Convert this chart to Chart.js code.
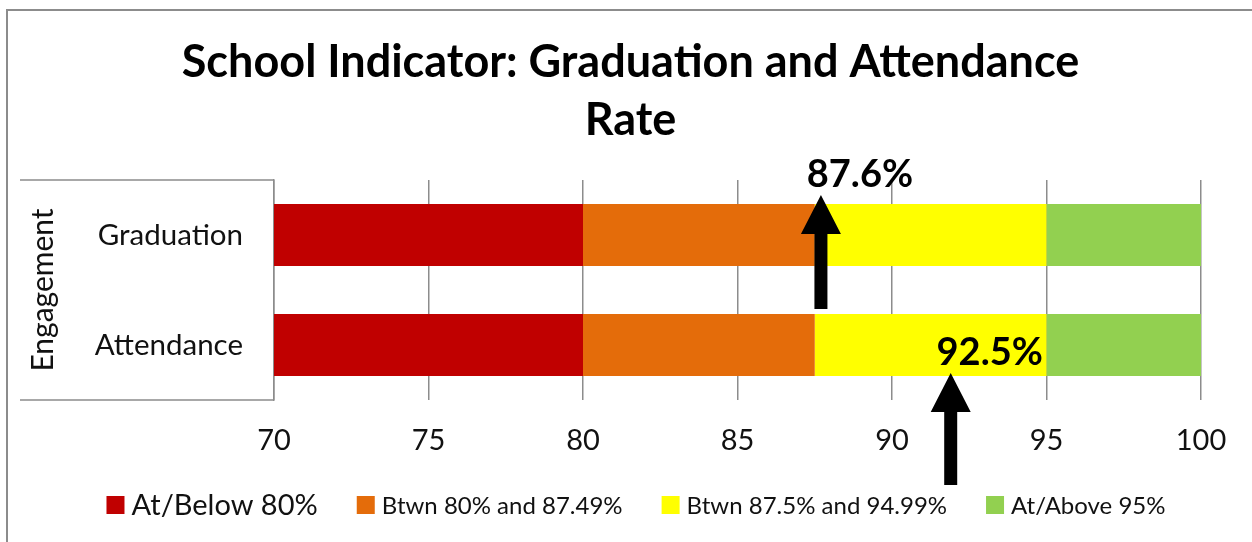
<!DOCTYPE html>
<html>
<head>
<meta charset="utf-8">
<script src="https://cdn.jsdelivr.net/npm/chart.js@4.4.1/dist/chart.umd.min.js"></script>
<style>
  html, body { margin: 0; padding: 0; background: #fff; }
  #wrap { position: relative; width: 1252px; height: 542px; }
  #frame { position: absolute; left: 6px; top: 9px; width: 1300px; height: 600px; border-top: 2px solid #8c8c8c; border-left: 2px solid #8c8c8c; }
  canvas { position: absolute; left: 0; top: 0; }
</style>
</head>
<body>
<div id="wrap">
  <div id="frame"></div>
  <canvas id="chart" width="1252" height="542"></canvas>
</div>
<script>
const categories = ["Graduation", "Attendance"];
const bandLabels = ["At/Below 80%", "Btwn 80% and 87.49%", "Btwn 87.5% and 94.99%", "At/Above 95%"];
const bandColors = ["#C00000", "#E46C0A", "#FFFF00", "#92D050"];
// stacked widths of each band (first one starts at 0, axis is cut at 70)
const atBelow80 = [80, 80];
const btwn80and875 = [7.5, 7.5];
const btwn875and95 = [7.5, 7.5];
const atAbove95 = [5, 5];
const actualRates = [87.6, 92.5];
// where the arrows were placed on the axis
const arrowAt = [87.7, 91.9];
const xTicks = [70, 75, 80, 85, 90, 95, 100];

const FONT = "Lato, 'Open Sans', sans-serif";

// title sits a bit right of centre in the original
const titleShift = {
  id: "titleShift",
  afterLayout(chart) {
    if (chart.titleBlock) {
      chart.titleBlock.left += 20;
      chart.titleBlock.right += 20;
    }
  }
};

// arrows + value labels, y-axis box and the legend
const annotate = {
  id: "annotate",
  afterDraw(chart) {
    const ctx = chart.ctx;
    const area = chart.chartArea;
    const xs = chart.scales.x;
    const ys = chart.scales.y;

    // box round the category labels
    ctx.save();
    ctx.strokeStyle = "#8c8c8c";
    ctx.lineWidth = 1.5;
    ctx.beginPath();
    ctx.moveTo(ys.left, area.top); ctx.lineTo(area.left, area.top);
    ctx.moveTo(ys.left, area.bottom); ctx.lineTo(area.left, area.bottom);
    ctx.stroke();
    ctx.restore();

    // arrows
    const bars = chart.getDatasetMeta(0).data;
    ctx.save();
    ctx.fillStyle = "#000";
    arrowAt.forEach((v, i) => {
      const x = xs.getPixelForValue(v);
      const yc = bars[i].y;
      let tip, base;
      if (i === 0) { tip = yc - 40; base = yc + 74; }
      else { tip = yc + 28; base = yc + 140; }
      const headH = 39, headW = 40, shaftW = 13;
      ctx.beginPath();
      ctx.moveTo(x, tip);
      ctx.lineTo(x + headW / 2, tip + headH);
      ctx.lineTo(x + shaftW / 2, tip + headH);
      ctx.lineTo(x + shaftW / 2, base);
      ctx.lineTo(x - shaftW / 2, base);
      ctx.lineTo(x - shaftW / 2, tip + headH);
      ctx.lineTo(x - headW / 2, tip + headH);
      ctx.closePath();
      ctx.fill();

      ctx.font = "bold 38px " + FONT;
      ctx.textAlign = "center";
      ctx.textBaseline = "middle";
      ctx.fillText(actualRates[i].toFixed(1) + "%", x + 39, tip - 20);
    });
    ctx.restore();

    // legend, first entry is bigger like in the original
    const sizes = [29, 24, 24, 24];
    const box = 18, gap = 7, between = 39;
    ctx.save();
    ctx.textBaseline = "middle";
    ctx.textAlign = "left";
    let total = 0;
    const widths = chart.data.datasets.map((ds, i) => {
      ctx.font = sizes[i] + "px " + FONT;
      const w = ctx.measureText(ds.label).width;
      total += box + gap + w;
      return w;
    });
    total += between * (widths.length - 1);
    let x = 636 - total / 2;
    const y = 505;
    chart.data.datasets.forEach((ds, i) => {
      ctx.fillStyle = ds.backgroundColor;
      ctx.fillRect(x, y - box / 2, box, box);
      x += box + gap;
      ctx.fillStyle = "#111";
      ctx.font = sizes[i] + "px " + FONT;
      ctx.fillText(ds.label, x, y + 1);
      x += widths[i] + between;
    });
    ctx.restore();
  }
};

const bandData = [atBelow80, btwn80and875, btwn875and95, atAbove95];

new Chart(document.getElementById("chart"), {
  type: "bar",
  data: {
    labels: categories,
    datasets: bandLabels.map((label, i) => ({
      label: label,
      data: bandData[i],
      backgroundColor: bandColors[i],
      borderWidth: 0,
      barPercentage: 0.565,
      categoryPercentage: 1.0
    }))
  },
  options: {
    indexAxis: "y",
    responsive: false,
    animation: false,
    layout: { padding: { left: 20, right: 51, top: 0, bottom: 72 } },
    plugins: {
      legend: { display: false },
      tooltip: { enabled: false },
      title: {
        display: true,
        text: ["School Indicator: Graduation and Attendance", "Rate"],
        color: "#000",
        font: { family: FONT, size: 45, weight: "bold", lineHeight: 1.3 },
        padding: { top: 33, bottom: 30 }
      }
    },
    scales: {
      x: {
        stacked: true,
        min: 70,
        max: 100,
        afterBuildTicks: (axis) => { axis.ticks = xTicks.map(v => ({ value: v })); },
        afterFit: (axis) => { axis.height = 70; },
        grid: { color: "#8c8c8c", lineWidth: 1.5, drawTicks: false },
        border: { display: false },
        ticks: { color: "#111", padding: 23, font: { family: FONT, size: 29 } }
      },
      y: {
        stacked: true,
        afterFit: (axis) => { axis.width = 254; },
        grid: { display: false, drawTicks: false },
        border: { display: true, color: "#8c8c8c", width: 1.5 },
        ticks: { color: "#111", padding: 31, font: { family: FONT, size: 29.5 } },
        title: {
          display: true,
          text: "Engagement",
          color: "#111",
          font: { family: FONT, size: 30 },
          padding: { top: 5, bottom: 0 }
        }
      }
    }
  },
  plugins: [titleShift, annotate]
});
</script>
</body>
</html>
